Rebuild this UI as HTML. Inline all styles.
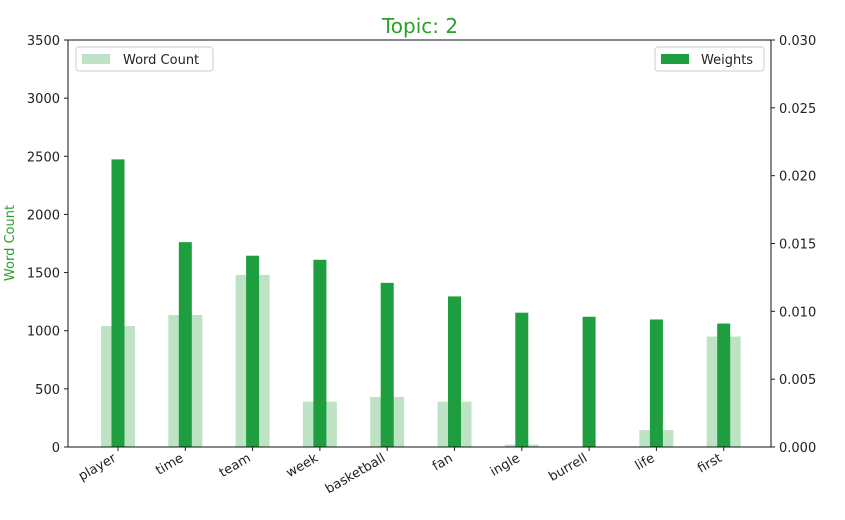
<!DOCTYPE html>
<html><head><meta charset="utf-8"><style>
body{margin:0;background:#fff;width:845px;height:515px;overflow:hidden}
svg text{font-family:"DejaVu Sans","Liberation Sans",sans-serif}
</style></head><body>
<svg id="chart" width="845" height="515" xmlns="http://www.w3.org/2000/svg">
<text x="420" y="33" text-anchor="middle" font-size="20" fill="#2ca02c">Topic: 2</text>
<g id="bars"></g>
<rect x="68" y="40" width="703" height="407" fill="none" stroke="#111" stroke-width="1"/>
<g id="axes" font-size="13" fill="#222"></g>
<text transform="translate(14,243) rotate(-90)" text-anchor="middle" font-size="13" fill="#2ca02c">Word Count</text>
<g>
<rect x="76" y="47" width="137" height="24" rx="3" fill="#fff" stroke="#ccc"/>
<rect x="82" y="54" width="28" height="10" fill="#bde3c4"/>
<text x="123" y="64" font-size="13" fill="#222">Word Count</text>
</g>
<g>
<rect x="655" y="47" width="109" height="24" rx="3" fill="#fff" stroke="#ccc"/>
<rect x="661" y="54" width="28" height="10" fill="#1e9e3e"/>
<text x="701" y="64" font-size="13" fill="#222">Weights</text>
</g>
</svg>
<script>
const categories=["player","time","team","week","basketball","fan","ingle","burrell","life","first"];
const wordCounts=[1040,1135,1480,390,430,390,20,0,145,950];
const weights=[0.0212,0.0151,0.0141,0.0138,0.0121,0.0111,0.0099,0.0096,0.0094,0.0091];
const leftTicks=[0,500,1000,1500,2000,2500,3000,3500];
const rightTicks=["0.000","0.005","0.010","0.015","0.020","0.025","0.030"];
const X0=68,X1=771,Y0=447,Y1=40;
function yL(v){return Y0-(v/3500)*(Y0-Y1);}
function yR(v){return Y0-(v/0.030)*(Y0-Y1);}
function xC(i){return 118+i*67.3;}
const NS="http://www.w3.org/2000/svg";
const bars=document.getElementById('bars'),axes=document.getElementById('axes');
function mk(t,a,p){const e=document.createElementNS(NS,t);for(const k in a)e.setAttribute(k,a[k]);p.appendChild(e);return e;}
categories.forEach((c,i)=>{
  const b=mk('rect',{x:xC(i)-17,y:yL(wordCounts[i]),width:34,height:Y0-yL(wordCounts[i]),fill:'#bde3c4'},bars);
  
  
  const w=mk('rect',{x:xC(i)-6.5,y:yR(weights[i]),width:13,height:Y0-yR(weights[i]),fill:'#1e9e3e'},bars);
  
  
  mk('line',{x1:xC(i),x2:xC(i),y1:Y0,y2:Y0+4,stroke:'#222'},axes);
  const tx=xC(i)-3,ty=Y0+14;
  const t=mk('text',{x:tx,y:ty,'text-anchor':'end',transform:`rotate(-30 ${tx} ${ty-4})`},axes);
  t.textContent=c;
  
  
});
leftTicks.forEach(v=>{
  mk('line',{x1:X0-4,x2:X0,y1:yL(v),y2:yL(v),stroke:'#222'},axes);
  const t=mk('text',{x:X0-8,y:yL(v)+5,'text-anchor':'end'},axes);t.textContent=v;
  
  
});
rightTicks.forEach(s=>{
  const v=parseFloat(s);
  mk('line',{x1:X1,x2:X1+4,y1:yR(v),y2:yR(v),stroke:'#222'},axes);
  const t=mk('text',{x:X1+8,y:yR(v)+5},axes);t.textContent=s;
  
  
});
</script>
</body></html>
